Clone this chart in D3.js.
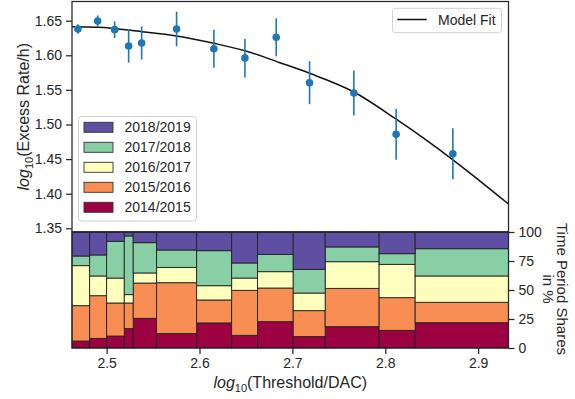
<!DOCTYPE html>
<html><head><meta charset="utf-8">
<script src="https://cdn.jsdelivr.net/npm/d3@7"></script>
<style>
body{margin:0;background:#fff;}
text{font-family:"Liberation Sans",Arial,sans-serif;fill:#262626;}
</style></head>
<body><svg id="c" width="575" height="399"></svg>
<script>
// ---- data ----
const pointX = [2.4691, 2.4903, 2.5086, 2.5237, 2.5377, 2.5753, 2.6155, 2.6489, 2.6826, 2.7185, 2.7662, 2.8117, 2.8728];
const pointY = [1.638, 1.6496, 1.637, 1.6134, 1.6178, 1.638, 1.6095, 1.596, 1.626, 1.5604, 1.5455, 1.4858, 1.4578];
const pointErr = [0.007, 0.008, 0.012, 0.024, 0.024, 0.025, 0.0275, 0.028, 0.0275, 0.031, 0.0325, 0.0366, 0.0368];
const fitX = [2.4627, 2.4910, 2.5377, 2.5753, 2.6155, 2.6489, 2.6865, 2.7185, 2.7662, 2.8114, 2.8728, 2.9327];
const fitY = [1.6413, 1.6405, 1.6341, 1.6279, 1.6173, 1.6066, 1.5893, 1.5740, 1.5470, 1.5080, 1.4490, 1.3851];
const binEdges = [2.4627, 2.4817, 2.5000, 2.5190, 2.5286, 2.5538, 2.5969, 2.6346, 2.6625, 2.7009, 2.7353, 2.7934, 2.8322, 2.9327];
const seasons = ["2014/2015", "2015/2016", "2016/2017", "2017/2018", "2018/2019"];
const share1415 = [6.0, 8.3, 10.3, 16.7, 25.6, 12.4, 21.6, 10.9, 22.7, 9.8, 18.4, 15.2, 21.8];
const share1516 = [30.5, 36.8, 28.5, 22.1, 30.4, 43.9, 19.8, 38.8, 29.0, 22.4, 33.0, 28.2, 17.6];
const share1617 = [34.5, 17.0, 21.5, 7.2, 8.7, 13.2, 12.3, 10.6, 14.1, 15.2, 23.0, 28.7, 22.7];
const share1718 = [8.3, 18.1, 31.7, 50.6, 26.1, 15.0, 30.2, 13.0, 14.9, 20.4, 12.7, 9.2, 23.5];
const share1819 = [20.7, 19.8, 8.0, 3.4, 9.2, 15.5, 16.1, 26.7, 19.3, 32.2, 12.9, 18.7, 14.4];
const xTicks = [2.5, 2.6, 2.7, 2.8, 2.9];
const yTicks = [1.35, 1.40, 1.45, 1.50, 1.55, 1.60, 1.65];
const shareTicks = [0, 25, 50, 75, 100];
const seasonColors = ["#9e0142", "#f88e53", "#ffffbe", "#89cfa5", "#5e4fa2"];

// ---- layout ----
const L = 72, R = 508.5, T = 1.5, M = 232, B = 348;
const ink = "#262626";
const svg = d3.select("#c");
const x = d3.scaleLinear().domain([2.4627, 2.9327]).range([L, R]);
const y = d3.scaleLinear().domain([1.3447, 1.6777]).range([M, T]);
const ys = d3.scaleLinear().domain([0, 100]).range([B, M]);

// ---- bottom stacked bars ----
const shares = [share1415, share1516, share1617, share1718, share1819];
const rows = binEdges.slice(0, -1).map((e, i) => {
  const o = {x0: e, x1: binEdges[i + 1]};
  seasons.forEach((s, k) => o[s] = shares[k][i]);
  return o;
});
const stack = d3.stack().keys(seasons)(rows);
const gb = svg.append("g");
stack.forEach((layer, k) => {
  gb.selectAll(null).data(layer).enter().append("rect")
    .attr("x", d => x(d.data.x0)).attr("width", d => x(d.data.x1) - x(d.data.x0))
    .attr("y", d => ys(d[1])).attr("height", d => ys(d[0]) - ys(d[1]))
    .attr("fill", seasonColors[k]).attr("stroke", "#222").attr("stroke-width", 0.9);
});

// ---- top: fit, error bars, points ----
const line = d3.line().x(d => x(d[0])).y(d => y(d[1])).curve(d3.curveMonotoneX);
svg.append("path").datum(fitX.map((v, i) => [v, fitY[i]]))
  .attr("d", line).attr("fill", "none").attr("stroke", "#111").attr("stroke-width", 1.5);
const gp = svg.append("g");
pointX.forEach((v, i) => {
  gp.append("line").attr("x1", x(v)).attr("x2", x(v))
    .attr("y1", y(pointY[i] - pointErr[i])).attr("y2", y(pointY[i] + pointErr[i]))
    .attr("stroke", "#1f77b4").attr("stroke-width", 1.6);
  gp.append("circle").attr("cx", x(v)).attr("cy", y(pointY[i])).attr("r", 3.8).attr("fill", "#1f77b4");
});

// ---- axes ----
function styleAxis(g) {
  g.selectAll("path").attr("stroke", "none");
  g.selectAll("line").attr("stroke", ink).attr("stroke-width", 1.25);
  g.selectAll("text").attr("font-size", 14).attr("fill", ink)
    .style("font-family", "'Liberation Sans', Arial, sans-serif");
}
svg.append("g").attr("transform", `translate(${L},0)`)
  .call(d3.axisLeft(y).tickValues(yTicks).tickFormat(d3.format(".2f")).tickSize(6).tickPadding(4))
  .call(styleAxis);
svg.append("g").attr("transform", `translate(0,${B})`)
  .call(d3.axisBottom(x).tickValues(xTicks).tickFormat(d3.format(".1f")).tickSize(6).tickPadding(4))
  .call(styleAxis);
svg.append("g").attr("transform", `translate(${R},0)`)
  .call(d3.axisRight(ys).tickValues(shareTicks).tickSize(6).tickPadding(4))
  .call(styleAxis);

// frames
svg.append("rect").attr("x", L).attr("y", T).attr("width", R - L).attr("height", M - T)
  .attr("fill", "none").attr("stroke", ink).attr("stroke-width", 1.25);
svg.append("rect").attr("x", L).attr("y", M).attr("width", R - L).attr("height", B - M)
  .attr("fill", "none").attr("stroke", ink).attr("stroke-width", 1.25);

// ---- legends ----
const lg = svg.append("g");
lg.append("rect").attr("x", 78.5).attr("y", 116.5).attr("width", 118).attr("height", 104.5)
  .attr("rx", 3).attr("fill", "#fff").attr("fill-opacity", 0.85).attr("stroke", "#d0d0d0");
seasons.slice().reverse().forEach((s, i) => {
  const cy = 127.3 + i * 20;
  lg.append("rect").attr("x", 84).attr("y", cy - 5).attr("width", 29).attr("height", 10)
    .attr("fill", seasonColors[4 - i]).attr("stroke", "#333").attr("stroke-width", 0.9);
  lg.append("text").attr("x", 124.5).attr("y", cy + 5).attr("font-size", 14).text(s);
});
const lf = svg.append("g");
lf.append("rect").attr("x", 392.5).attr("y", 8.3).attr("width", 109).attr("height", 24.4)
  .attr("rx", 3).attr("fill", "#fff").attr("fill-opacity", 0.85).attr("stroke", "#d0d0d0");
lf.append("line").attr("x1", 397.3).attr("x2", 426.7).attr("y1", 19.5).attr("y2", 19.5)
  .attr("stroke", "#111").attr("stroke-width", 1.5);
lf.append("text").attr("x", 438).attr("y", 25).attr("font-size", 14).text("Model Fit");

// ---- axis labels ----
function logLabel(t, rest) {
  t.append("tspan").attr("font-style", "italic").text("log");
  t.append("tspan").attr("font-size", 11).attr("dy", 4).text("10");
  t.append("tspan").attr("dy", -4).text(rest);
}
const yl = svg.append("text").attr("transform", `translate(29,${(T + M) / 2}) rotate(-90)`)
  .attr("text-anchor", "middle").attr("font-size", 16);
logLabel(yl, "(Excess Rate/h)");
const xl = svg.append("text").attr("x", (L + R) / 2).attr("y", 388)
  .attr("text-anchor", "middle").attr("font-size", 16);
logLabel(xl, "(Threshold/DAC)");
const rl = svg.append("text").attr("transform", `translate(550,${(M + B) / 2 - 1}) rotate(90)`)
  .attr("text-anchor", "middle").attr("font-size", 15);
rl.append("tspan").attr("x", 0).attr("dy", -7).text("Time Period Shares");
rl.append("tspan").attr("x", 0).attr("dy", 14).text("in %");
</script></body></html>
